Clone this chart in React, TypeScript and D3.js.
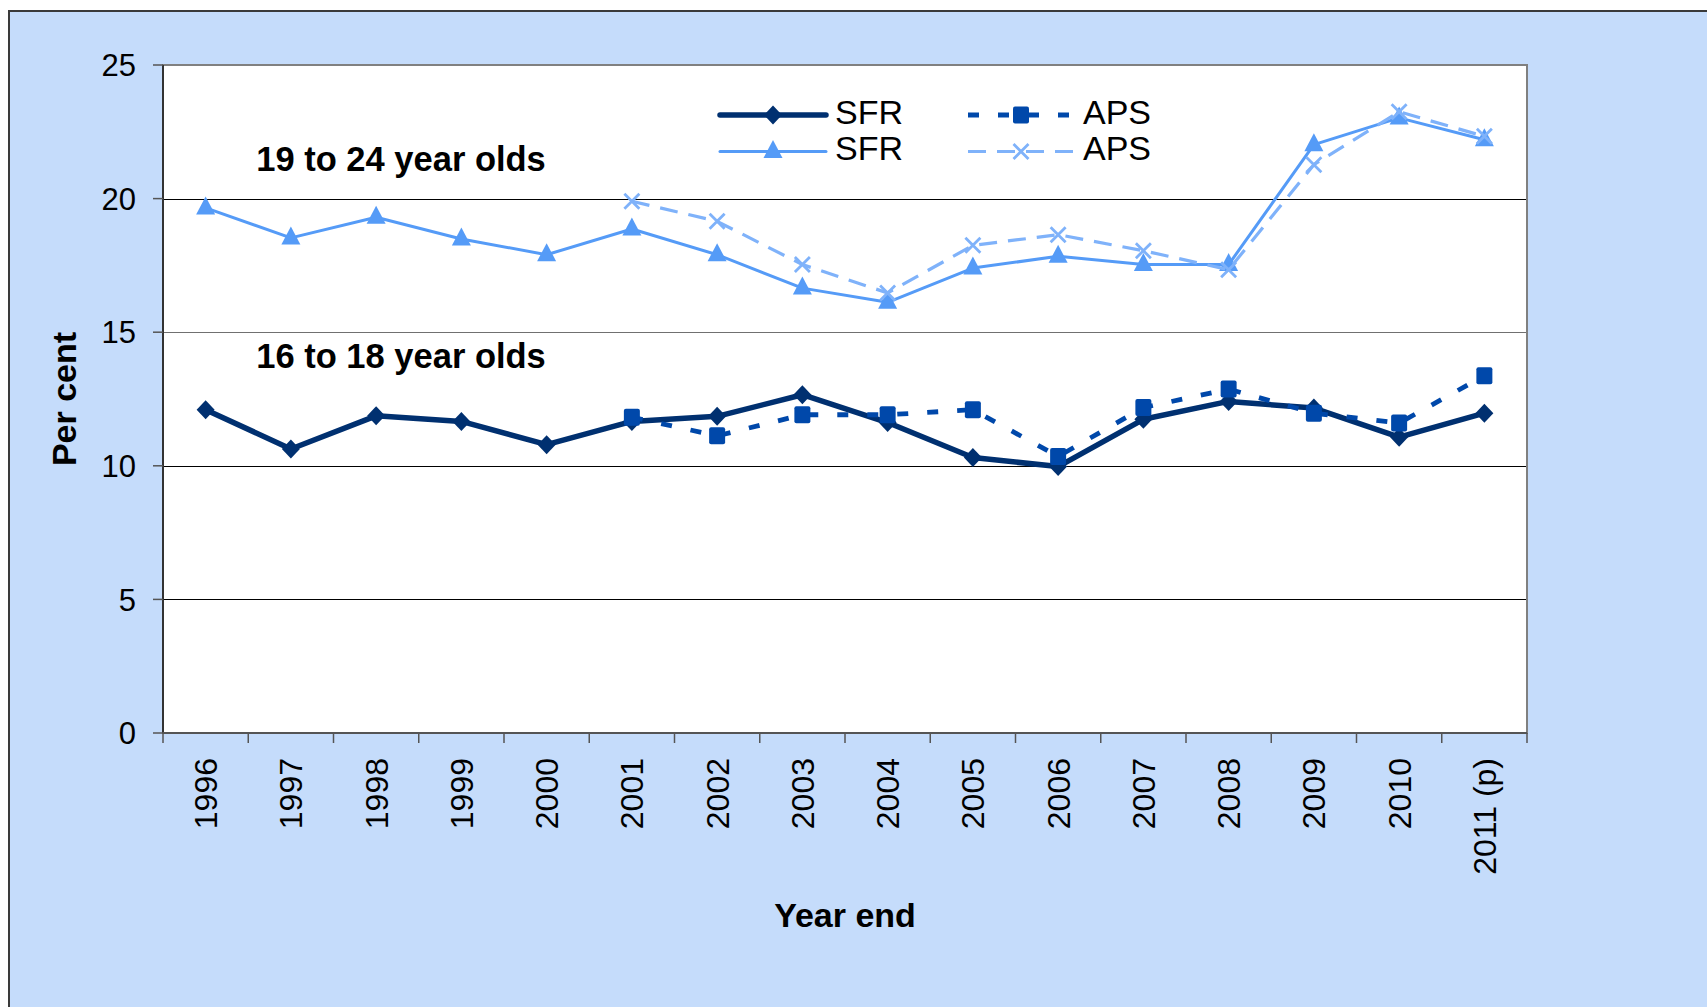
import React from "react";
import * as d3 from "d3";

const categories = [
  "1996", "1997", "1998", "1999", "2000", "2001", "2002", "2003",
  "2004", "2005", "2006", "2007", "2008", "2009", "2010", "2011 (p)",
];

// 16 to 18 year olds
const sfrYoung = [12.1, 10.63, 11.87, 11.66, 10.79, 11.66, 11.85, 12.66, 11.62, 10.31, 9.97, 11.74, 12.41, 12.16, 11.07, 11.97];
const apsYoung = [null, null, null, null, null, 11.82, 11.12, 11.91, 11.91, 12.1, 10.35, 12.18, 12.87, 11.97, 11.6, 13.37];

// 19 to 24 year olds
const sfrOlder = [19.65, 18.53, 19.3, 18.49, 17.9, 18.86, 17.9, 16.65, 16.12, 17.4, 17.84, 17.53, 17.53, 22.02, 23.02, 22.2];
const apsOlder = [null, null, null, null, null, 19.9, 19.15, 17.53, 16.47, 18.25, 18.65, 18.05, 17.34, 21.27, 23.25, 22.33];

const yTicks = [0, 5, 10, 15, 20, 25];

const groupLabels = [
  { text: "19 to 24 year olds", value: 21.05 },
  { text: "16 to 18 year olds", value: 13.65 },
];

const W = 1707;
const H = 1007;
const margin = { top: 65, right: 180, bottom: 274, left: 163 };
const innerW = W - margin.left - margin.right;
const innerH = H - margin.top - margin.bottom;

const NAVY = "#003070";
const MID = "#0048AA";
const LIGHT = "#559BF7";
const PALE = "#7FB2FA";
const BG = "#C5DCFB";

const font = "'Liberation Sans', Arial, sans-serif";

function Marker({ kind, x, y }: { kind: string; x: number; y: number }) {
  if (kind === "diamond") {
    return <path d={`M${x},${y - 9.5}L${x + 9},${y}L${x},${y + 9.5}L${x - 9},${y}Z`} fill={NAVY} />;
  }
  if (kind === "square") {
    return <rect x={x - 8} y={y - 8.5} width={16} height={17} rx={2} fill={MID} />;
  }
  if (kind === "triangle") {
    return <path d={`M${x},${y - 11.5}L${x + 9.5},${y + 6.5}L${x - 9.5},${y + 6.5}Z`} fill={LIGHT} />;
  }
  return (
    <path
      d={`M${x - 7.5},${y - 7.5}L${x + 7.5},${y + 7.5}M${x - 7.5},${y + 7.5}L${x + 7.5},${y - 7.5}`}
      stroke={PALE}
      strokeWidth={2.8}
      fill="none"
    />
  );
}

const series = [
  { values: sfrOlder, color: LIGHT, width: 3, dash: "", marker: "triangle" },
  { values: apsOlder, color: PALE, width: 3.2, dash: "18 11", marker: "x" },
  { values: sfrYoung, color: NAVY, width: 5.5, dash: "", marker: "diamond" },
  { values: apsYoung, color: MID, width: 4.8, dash: "11 19", marker: "square" },
];

const legendItems = [
  { label: "SFR", s: 2, col: 0, row: 0 },
  { label: "APS", s: 3, col: 1, row: 0 },
  { label: "SFR", s: 0, col: 0, row: 1 },
  { label: "APS", s: 1, col: 1, row: 1 },
];

export default function App() {
  const x = d3.scaleBand().domain(categories).range([0, innerW]).padding(0);
  const y = d3.scaleLinear().domain([0, 25]).range([innerH, 0]);
  const cx = (c: string) => (x(c) as number) + x.bandwidth() / 2;

  const line = d3
    .line<number | null>()
    .defined((d) => d !== null)
    .x((_, i) => cx(categories[i]))
    .y((d) => y(d as number));

  const boundaries = categories.map((c) => x(c) as number).concat([innerW]);

  return (
    <svg
      width={W}
      height={H}
      style={{ position: "absolute", left: 0, top: 0, fontFamily: font }}
    >
      <rect x={9} y={11} width={W + 20} height={H + 20} fill={BG} stroke="#3a3a3a" strokeWidth={2} />
      <g transform={`translate(${margin.left},${margin.top})`}>
        <rect x={0} y={0} width={innerW} height={innerH} fill="#fff" />
        {yTicks
          .filter((t) => t > 0 && t < 25)
          .map((t) => (
            <line
              key={t}
              x1={0}
              x2={innerW}
              y1={Math.round(y(t)) + 0.5}
              y2={Math.round(y(t)) + 0.5}
              stroke={t === 15 ? "#707070" : "#000"}
              strokeWidth={1.2}
            />
          ))}
        <rect x={0} y={0} width={innerW} height={innerH} fill="none" stroke="#808080" strokeWidth={2} />
        <line x1={0} x2={0} y1={0} y2={innerH} stroke="#333" strokeWidth={2} />
        <line x1={0} x2={innerW} y1={innerH} y2={innerH} stroke="#555" strokeWidth={2} />

        {/* y axis */}
        {yTicks.map((t) => (
          <g key={t} transform={`translate(0,${y(t)})`}>
            <line x1={-10} x2={0} stroke="#555" strokeWidth={1.5} />
            <text x={-27} dy="0.36em" textAnchor="end" fontSize={31} fill="#000">
              {t}
            </text>
          </g>
        ))}

        {/* x axis */}
        {boundaries.map((b, i) => (
          <line key={i} x1={b} x2={b} y1={innerH} y2={innerH + 10} stroke="#555" strokeWidth={1.5} />
        ))}
        {categories.map((c) => (
          <text
            key={c}
            transform={`translate(${cx(c)},${innerH + 25}) rotate(-90)`}
            dy="0.36em"
            textAnchor="end"
            fontSize={32}
            fill="#000"
          >
            {c}
          </text>
        ))}

        {groupLabels.map((g) => (
          <text key={g.text} x={(x("1997") as number) + 8} y={y(g.value)} fontSize={34.5} fontWeight="bold" fill="#000">
            {g.text}
          </text>
        ))}

        {series.map((s, i) => (
          <g key={i}>
            <path
              d={line(s.values) || ""}
              fill="none"
              stroke={s.color}
              strokeWidth={s.width}
              strokeDasharray={s.dash || undefined}
              strokeLinejoin="round"
            />
            {s.values.map((v, j) =>
              v === null ? null : <Marker key={j} kind={s.marker} x={cx(categories[j])} y={y(v)} />
            )}
          </g>
        ))}
      </g>

      {/* legend */}
      <g>
        {legendItems.map((it, i) => {
          const s = series[it.s];
          const x0 = it.col === 0 ? 720 : 968;
          const ly = it.row === 0 ? 115 : 151.5;
          return (
            <g key={i}>
              <line
                x1={x0}
                x2={x0 + 106}
                y1={ly}
                y2={ly}
                stroke={s.color}
                strokeWidth={s.width}
                strokeDasharray={s.dash || undefined}
                strokeLinecap={s.dash ? "butt" : "round"}
              />
              <Marker kind={s.marker} x={x0 + 53} y={ly} />
              <text x={x0 + 115} y={ly + 8.5} fontSize={34} fill="#000">
                {it.label}
              </text>
            </g>
          );
        })}
      </g>

      <text
        transform={`translate(76,${margin.top + innerH / 2}) rotate(-90)`}
        textAnchor="middle"
        fontSize={34}
        fontWeight="bold"
        fill="#000"
      >
        Per cent
      </text>
      <text x={margin.left + innerW / 2} y={927} textAnchor="middle" fontSize={34} fontWeight="bold" fill="#000">
        Year end
      </text>
    </svg>
  );
}
